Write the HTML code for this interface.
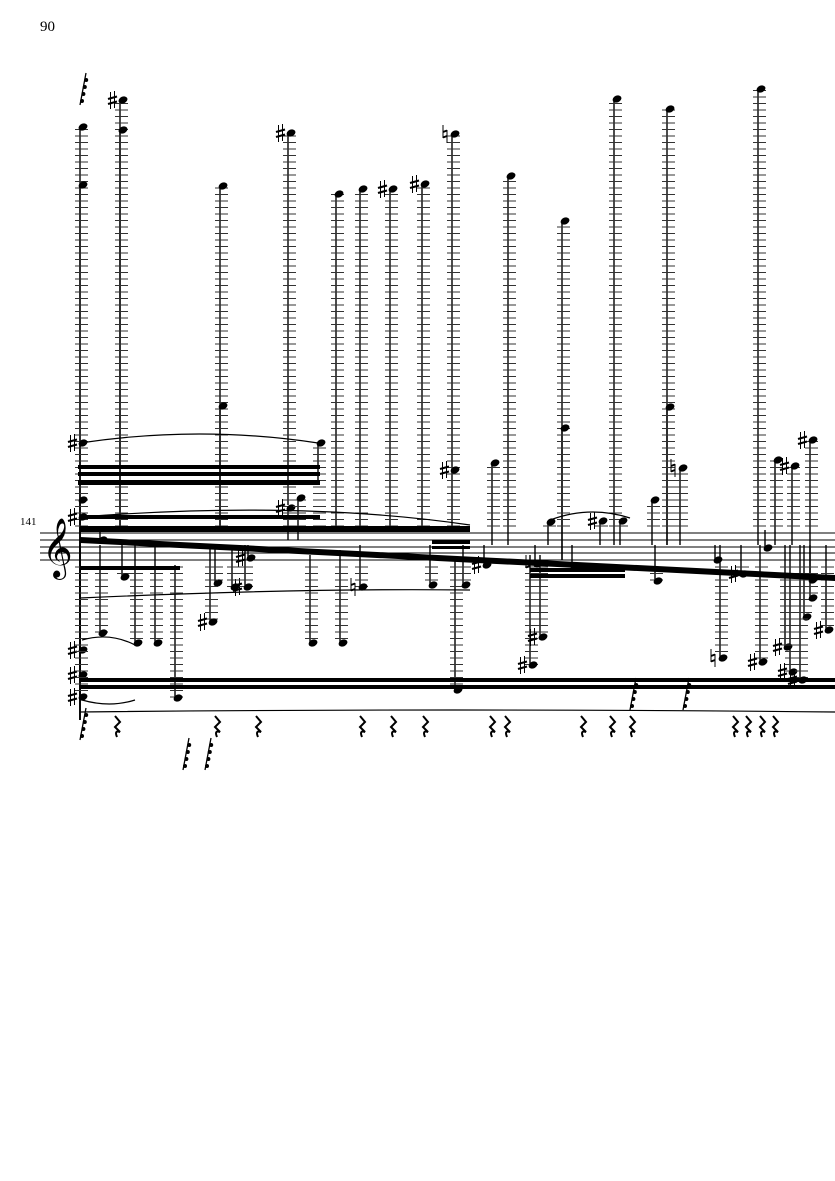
<!DOCTYPE html>
<html><head><meta charset="utf-8"><style>
html,body{margin:0;padding:0;background:#fff;width:835px;height:1181px;overflow:hidden}
svg{position:absolute;left:0;top:0}
</style></head><body>
<svg id="s" width="835" height="1181" xmlns="http://www.w3.org/2000/svg">
<text x="40" y="31" font-family="Liberation Serif, serif" font-size="15">90</text>
<text x="20" y="525" font-family="Liberation Serif, serif" font-size="11">141</text>
<g stroke="#000" stroke-width="1">
<line x1="40" y1="533" x2="835" y2="533"/><line x1="40" y1="540" x2="835" y2="540"/>
<line x1="40" y1="547" x2="835" y2="547"/><line x1="40" y1="553" x2="835" y2="553"/>
<line x1="40" y1="560" x2="835" y2="560"/>
</g>
<text x="42" y="565" font-family="DejaVu Sans, sans-serif" font-size="52">𝄞</text>
<g id="g"></g>
<g fill="#000">
<polygon points="78,465 320,465 320,469 78,469"/><polygon points="78,472 320,472 320,476 78,476"/><polygon points="78,480 320,480 320,485 78,485"/>
<polygon points="80,526 470,526 470,532 80,532"/>
<polygon points="80,537 835,575 835,581 80,543"/>
<polygon points="80,515 320,515 320,519 80,519"/>
<polygon points="80,678 835,678 835,682 80,682"/><polygon points="80,685 835,685 835,689 80,689"/>
<polygon points="80,566 180,566 180,570 80,570"/>
<polygon points="432,540 470,540 470,544 432,544"/><polygon points="432,546 470,546 470,549 432,549"/>
<polygon points="530,568 625,568 625,572 530,572"/><polygon points="530,574 625,574 625,578 530,578"/>
</g>
<g fill="none" stroke="#000" stroke-width="1.2">
<path d="M80,443 Q200,425 318,443"/><path d="M80,517 Q300,500 470,525"/><path d="M80,598 Q300,588 470,590"/>
<path d="M80,712 Q450,708 835,712"/><path d="M550,520 Q590,505 630,518"/>
<path d="M82,640 Q110,632 135,645"/><path d="M82,700 Q110,708 135,700"/>
</g>
</svg>
<script>
var g=document.getElementById('g'),h='';
function sharp(x,y){
 h+='<g stroke="#000"><line x1="'+(x-1.5)+'" y1="'+(y-8)+'" x2="'+(x-1.5)+'" y2="'+(y+9)+'" stroke-width="1"/><line x1="'+(x+2.5)+'" y1="'+(y-9)+'" x2="'+(x+2.5)+'" y2="'+(y+8)+'" stroke-width="1"/><line x1="'+(x-4)+'" y1="'+(y-1)+'" x2="'+(x+5)+'" y2="'+(y-3.5)+'" stroke-width="2.2"/><line x1="'+(x-4)+'" y1="'+(y+4)+'" x2="'+(x+5)+'" y2="'+(y+1.5)+'" stroke-width="2.2"/></g>';
}
function nat(x,y){
 h+='<g stroke="#000"><line x1="'+(x-2)+'" y1="'+(y-9)+'" x2="'+(x-2)+'" y2="'+(y+4)+'" stroke-width="1"/><line x1="'+(x+2)+'" y1="'+(y-4)+'" x2="'+(x+2)+'" y2="'+(y+9)+'" stroke-width="1"/><line x1="'+(x-2)+'" y1="'+(y-2)+'" x2="'+(x+2)+'" y2="'+(y-3.5)+'" stroke-width="2"/><line x1="'+(x-2)+'" y1="'+(y+3.5)+'" x2="'+(x+2)+'" y2="'+(y+2)+'" stroke-width="2"/></g>';
}
function n(x,y,e,acc){
 h+='<line x1="'+x+'" y1="'+y+'" x2="'+x+'" y2="'+e+'" stroke="#000" stroke-width="1.4"/>';
 if(y<530){for(var yy=526;yy>y;yy-=6.5)h+='<line x1="'+(x-5)+'" y1="'+yy+'" x2="'+(x+8)+'" y2="'+yy+'" stroke="#333" stroke-width="1"/>';}
 if(y>564){for(var yy=567;yy<y;yy+=6.5)h+='<line x1="'+(x-5)+'" y1="'+yy+'" x2="'+(x+8)+'" y2="'+yy+'" stroke="#333" stroke-width="1"/>';}
 h+='<ellipse cx="'+(x+3)+'" cy="'+y+'" rx="4.6" ry="3.4" transform="rotate(-25 '+(x+3)+' '+y+')" fill="#000"/>';
 if(acc=='♯')sharp(x-8,y);
 if(acc=='♮')nat(x-7,y);
}
var up=[[80,127,720],[80,185,720],[120,100,530,'♯'],[120,130,530],[220,186,530],[220,406,530],[288,133,505,'♯'],[336,194,530],[360,189,530],[390,189,530,'♯'],[422,184,530,'♯'],[452,134,470,'♮'],[452,470,530,'♯'],[508,176,545],[562,221,560],[562,428,560],[614,99,545],[667,109,545],[667,407,545],[758,89,545],[775,460,545],[792,466,545,'♯'],[810,440,545,'♯'],[680,468,545,'♮'],[318,443,485],[492,463,545],[652,500,545],[548,522,545],[600,521,545,'♯'],[620,521,545],[80,443,720,'♯'],[80,500,720],[80,517,720,'♯'],[288,508,540,'♯'],[298,498,540]];
var lo=[[310,643,555],[340,643,550],[455,690,560],[530,665,555,'♯'],[540,637,555,'♯'],[720,658,545,'♮'],[760,662,545,'♯'],[785,647,545,'♯'],[790,672,545,'♯'],[804,617,545],[826,630,545,'♯'],[175,698,565],[215,583,545],[245,587,545,'♯'],[248,558,545,'♯'],[122,577,545],[100,633,545],[135,643,545],[155,643,545],[360,587,545,'♮'],[430,585,545],[463,585,545],[655,581,545],[715,560,545],[741,574,545,'♯'],[232,587,545],[210,622,545,'♯'],[80,650,545,'♯'],[80,675,545,'♯'],[80,697,545,'♯'],[100,540,530],[765,548,530],[484,565,545,'♯'],[535,564,545,'♮'],[572,567,545],[810,598,545],[810,580,545],[800,680,545,'♯']];
up.forEach(function(a){n(a[0],a[1],a[2],a[3]);});
lo.forEach(function(a){n(a[0],a[1],a[2],a[3]);});
var rx=[117,217,258,362,393,425,492,507,583,612,632,735,748,762,775];
rx.forEach(function(x){h+='<path d="M'+(x-2)+',716 L'+(x+3)+',722 L'+(x-2)+',727 L'+(x+3)+',732 Q'+(x-3)+',730 '+x+',737" fill="none" stroke="#000" stroke-width="2"/>';});
[[80,730],[183,760],[205,760],[630,700],[683,700],[80,95]].forEach(function(p){h+='<line x1="'+(p[0]+6)+'" y1="'+(p[1]-22)+'" x2="'+p[0]+'" y2="'+(p[1]+10)+'" stroke="#000" stroke-width="1.3"/>';for(var i=0;i<4;i++)h+='<circle cx="'+(p[0]+2+i*1.4)+'" cy="'+(p[1]+6-i*7)+'" r="2" fill="#000"/>';});
g.innerHTML=h;
</script>
</body></html>
